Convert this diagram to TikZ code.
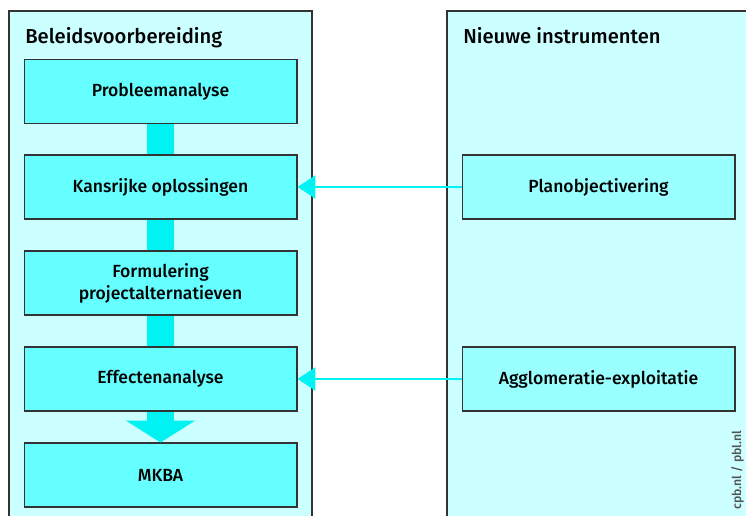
\documentclass[tikz,border=0pt]{standalone}
\usepackage{fontspec}
\setmainfont{Fira Sans}[BoldFont={Fira Sans Medium}]
\usetikzlibrary{arrows.meta}
\definecolor{paneel}{HTML}{CCFFFF}
\definecolor{stapvak}{HTML}{66FFFF}
\definecolor{instrvak}{HTML}{99FFFF}
\definecolor{pijl}{HTML}{00F2F2}
\definecolor{rand}{HTML}{333333}
\tikzset{
  vak/.style={draw=rand,line width=0.6pt,minimum width=5.46cm,minimum height=1.28cm,
    inner sep=0pt,align=center,font=\bfseries\fontsize{10}{12.5}\selectfont},
  stap/.style={vak,fill=stapvak},
  instr/.style={vak,fill=instrvak},
  titel/.style={anchor=base west,inner sep=0pt,font=\bfseries\fontsize{11.5}{14}\selectfont},
  balk/.style={draw=pijl,line width=15.3pt},
  invoer/.style={draw=pijl,line width=1.7pt,-{Triangle[length=10.2pt,width=13pt]}}
}
\begin{document}
\begin{tikzpicture}[x=0.02cm,y=-0.02cm]
\useasboundingbox (0,0) rectangle (746,516);
\clip (0,0) rectangle (746,516);
% panelen
\filldraw[fill=paneel,draw=rand,line width=0.6pt] (9,11) rectangle (312,530);
\filldraw[fill=paneel,draw=rand,line width=0.6pt] (447,11) rectangle (760,530);
\node[titel] (beleid) at (25,44) {Beleidsvoorbereiding};
\node[titel] (nieuw) at (463,44) {Nieuwe instrumenten};

% stappen
\node[stap] (probleem) at (160.5,91.5) {Probleemanalyse};
\node[stap] (kansrijk) at (160.5,187) {Kansrijke oplossingen};
\node[stap] (formulering) at (160.5,283) {Formulering\\projectalternatieven};
\node[stap] (effecten) at (160.5,379) {Effectenanalyse};
\node[stap] (mkba) at (160.5,475) {MKBA};

% instrumenten
\node[instr] (plano) at (598.5,187) {Planobjectivering};
\node[instr] (agglo) at (598.5,379) {Agglomeratie-exploitatie};

\path[balk] (probleem.south) -- (kansrijk.north);
\path[balk] (kansrijk.south) -- (formulering.north);
\path[balk] (formulering.south) -- (effecten.north);
\draw[balk,-{Triangle[length=12.5pt,width=39pt]}] (effecten.south) -- (mkba.north);

\draw[invoer] (plano) -- (kansrijk);
\draw[invoer] (agglo) -- (effecten);

\node[rotate=90,anchor=base west,inner sep=0pt,text=rand!85,
  font=\bfseries\fontsize{7}{8}\selectfont] (bron) at (741,510) {cpb.nl / pbl.nl};
\end{tikzpicture}
\end{document}
